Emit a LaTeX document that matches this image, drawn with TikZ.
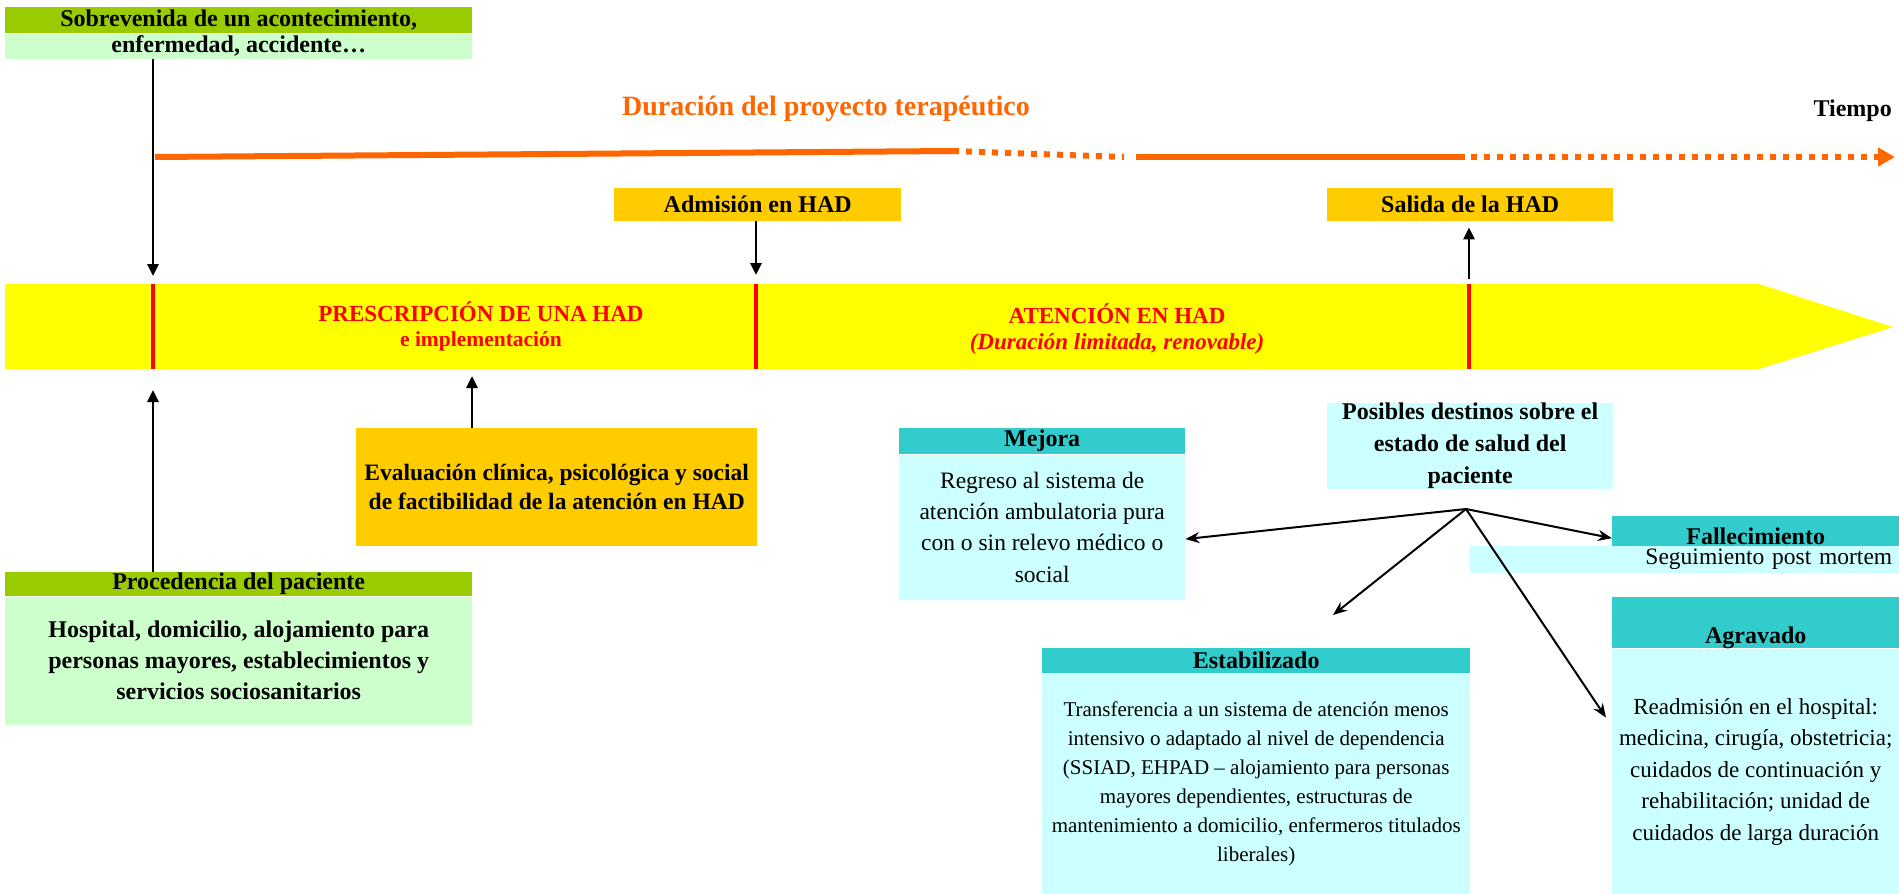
\documentclass[tikz,border=0pt]{standalone}
\usepackage{fontspec}
\setmainfont{Liberation Serif}
\usepackage{xcolor}
\usetikzlibrary{positioning,arrows.meta}

\definecolor{verdeO}{HTML}{99CC00}
\definecolor{verdeC}{HTML}{CCFFCC}
\definecolor{oro}{HTML}{FFCC00}
\definecolor{amarillo}{HTML}{FFFF00}
\definecolor{rojo}{HTML}{FF0000}
\definecolor{turq}{HTML}{33CCCC}
\definecolor{cian}{HTML}{CCFFFF}
\definecolor{naranja}{HTML}{FF6600}

\begin{document}
\begin{tikzpicture}[x=1pt, y=-1pt,
    caja/.style={rectangle, inner sep=0pt, anchor=north west, align=center},
    negro/.style={font=\fontsize{24}{31}\selectfont\bfseries},
    texto/.style={font=\fontsize{23.5}{31.3}\selectfont},
    flecha/.style={line width=2.8pt, -{Triangle[length=12pt,width=11pt]}},
    flechaD/.style={line width=2pt, -{Stealth[length=14pt,width=11pt]}},
    linea/.style={naranja, line width=6pt},
    puntos/.style={dash pattern=on 6pt off 7pt}]
            \useasboundingbox (0,0) rectangle (1899,894);

            % eje del tiempo
            \fill[amarillo] (5,284) -- (1759,284) -- (1893,327) -- (1759,369) -- (5,369) -- cycle;
            \foreach \x/\n in {153/1, 756/2, 1469/3} {
                \coordinate (m\n) at (\x,284);
                \coordinate (n\n) at (\x,369);
                \draw[rojo, line width=4pt] (m\n) -- (n\n);
            }
            \node[font=\fontsize{23}{25}\selectfont\bfseries, text=rojo, align=center] (presc) at (481,326) {PRESCRIPCIÓN DE UNA HAD\\{\fontsize{21.5}{25}\selectfont e implementación}};
            \node[font=\fontsize{23}{26}\selectfont\bfseries, text=rojo, align=center] (aten) at (1117,329) {ATENCIÓN EN HAD\\\textit{(Duración limitada, renovable)}};

            % arriba
            \node[caja, negro, fill=verdeO, minimum width=467, minimum height=26] (sobH) at (5,7) {Sobrevenida de un acontecimiento,};
            \node[caja, negro, fill=verdeC, minimum width=467, minimum height=25] (sobB) at (sobH.south west) {enfermedad, accidente…};
            \node[font=\fontsize{28}{34}\selectfont\bfseries, text=naranja] (dur) at (826,109) {Duración del proyecto terapéutico};
            \node[negro, inner sep=0pt, anchor=east] (tiempo) at (1892,111) {Tiempo};
            \node[caja, negro, fill=oro, minimum width=287, minimum height=33] (adm) at (614,188) {Admisión en HAD};
            \node[caja, negro, fill=oro, minimum width=286, minimum height=33] (sal) at (1327,188) {Salida de la HAD};

            % duracion
            \coordinate (o0) at (155,157);
            \coordinate (o1) at (953,151);
            \coordinate (o2) at (1124,157);
            \coordinate (o3) at (1136,157);
            \coordinate (o4) at (1465,157);
            \coordinate (o5) at (1471,157);
            \coordinate (o6) at (1895,157);
            \draw[linea] (o0) -- (o1);
            \draw[linea, puntos] (o1) -- (o2);
            \draw[linea] (o3) -- (o4);
            \draw[linea, puntos, -{Triangle[length=17pt,width=18pt]}] (o5) -- (o6);

            % abajo izquierda
            \node[caja, font=\fontsize{23.5}{29}\selectfont\bfseries, fill=oro, minimum width=401, minimum height=118] (eva) at (356,428) {Evaluación clínica, psicológica y social\\de factibilidad de la atención en HAD};
            \node[caja, negro, fill=verdeO, minimum width=467, minimum height=24] (proH) at (5,572) {Procedencia del paciente};
            \node[caja, negro, fill=verdeC, minimum width=467, minimum height=128] (proB) at (proH.south west) {Hospital, domicilio, alojamiento para\\personas mayores, establecimientos y\\servicios sociosanitarios};

            % destinos
            \node[caja, font=\fontsize{24}{32}\selectfont\bfseries, fill=cian, minimum width=286, minimum height=84] (pos) at (1327,403) {Posibles destinos sobre el\\estado de salud del\\paciente};
            \node[caja, negro, fill=turq, minimum width=286, minimum height=26] (mejH) at (899,428) {Mejora};
            \node[caja, texto, fill=cian, minimum width=286, minimum height=145] (mejB) at (mejH.south west) {Regreso al sistema de\\atención ambulatoria pura\\con o sin relevo médico o\\social};
            \node[caja, negro, fill=turq, minimum width=287, minimum height=30, text height=28pt, text depth=2pt] (falH) at (1612,516) {Fallecimiento};
            \node[caja, texto, fill=cian, minimum height=27, text width=415, inner xsep=7pt, align=right] (seg) at (1470,546) {Seguimiento post mortem};
            \node[caja, negro, fill=turq, minimum width=428, minimum height=25] (estH) at (1042,648) {Estabilizado};
            \node[caja, font=\fontsize{21}{29}\selectfont, fill=cian, minimum width=428, minimum height=221] (estB) at (estH.south west) {Transferencia a un sistema de atención menos\\intensivo o adaptado al nivel de dependencia\\(SSIAD, EHPAD -- alojamiento para personas\\mayores dependientes, estructuras de\\mantenimiento a domicilio, enfermeros titulados\\liberales)};
            \node[caja, negro, fill=turq, minimum width=287, minimum height=51, text height=46pt, text depth=5pt] (agrH) at (1612,597) {Agravado};
            \node[caja, font=\fontsize{23}{31.5}\selectfont, fill=cian, minimum width=287, minimum height=246] (agrB) at (agrH.south west) {Readmisión en el hospital:\\medicina, cirugía, obstetricia;\\cuidados de continuación y\\rehabilitación; unidad de\\cuidados de larga duración};

            % flechas
            \coordinate (evaTip) at (472,376);
            \coordinate (hub) at (1466,509);
            \coordinate (estTip) at (1333,615);
            \draw[flecha] (sobB.south -| m1) -- ([yshift=8pt]m1);
            \draw[flecha] (adm.south -| m2) -- ([yshift=9pt]m2);
            \draw[flecha] ([yshift=5pt]m3) -- ([yshift=-6pt]sal.south -| m3);
            \draw[flecha] (proH.north -| n1) -- ([yshift=-21pt]n1);
            \draw[flecha] (eva.north -| evaTip) -- (evaTip);
            \draw[flechaD] (hub) -- ([yshift=-12pt]mejB.east);
            \draw[flechaD] (hub) -- ([yshift=-7pt]falH.west);
            \draw[flechaD] (hub) -- (estTip);
            \draw[flechaD] (hub) -- ([xshift=-6pt,yshift=54pt]agrB.west);

        \end{tikzpicture}
\end{document}
